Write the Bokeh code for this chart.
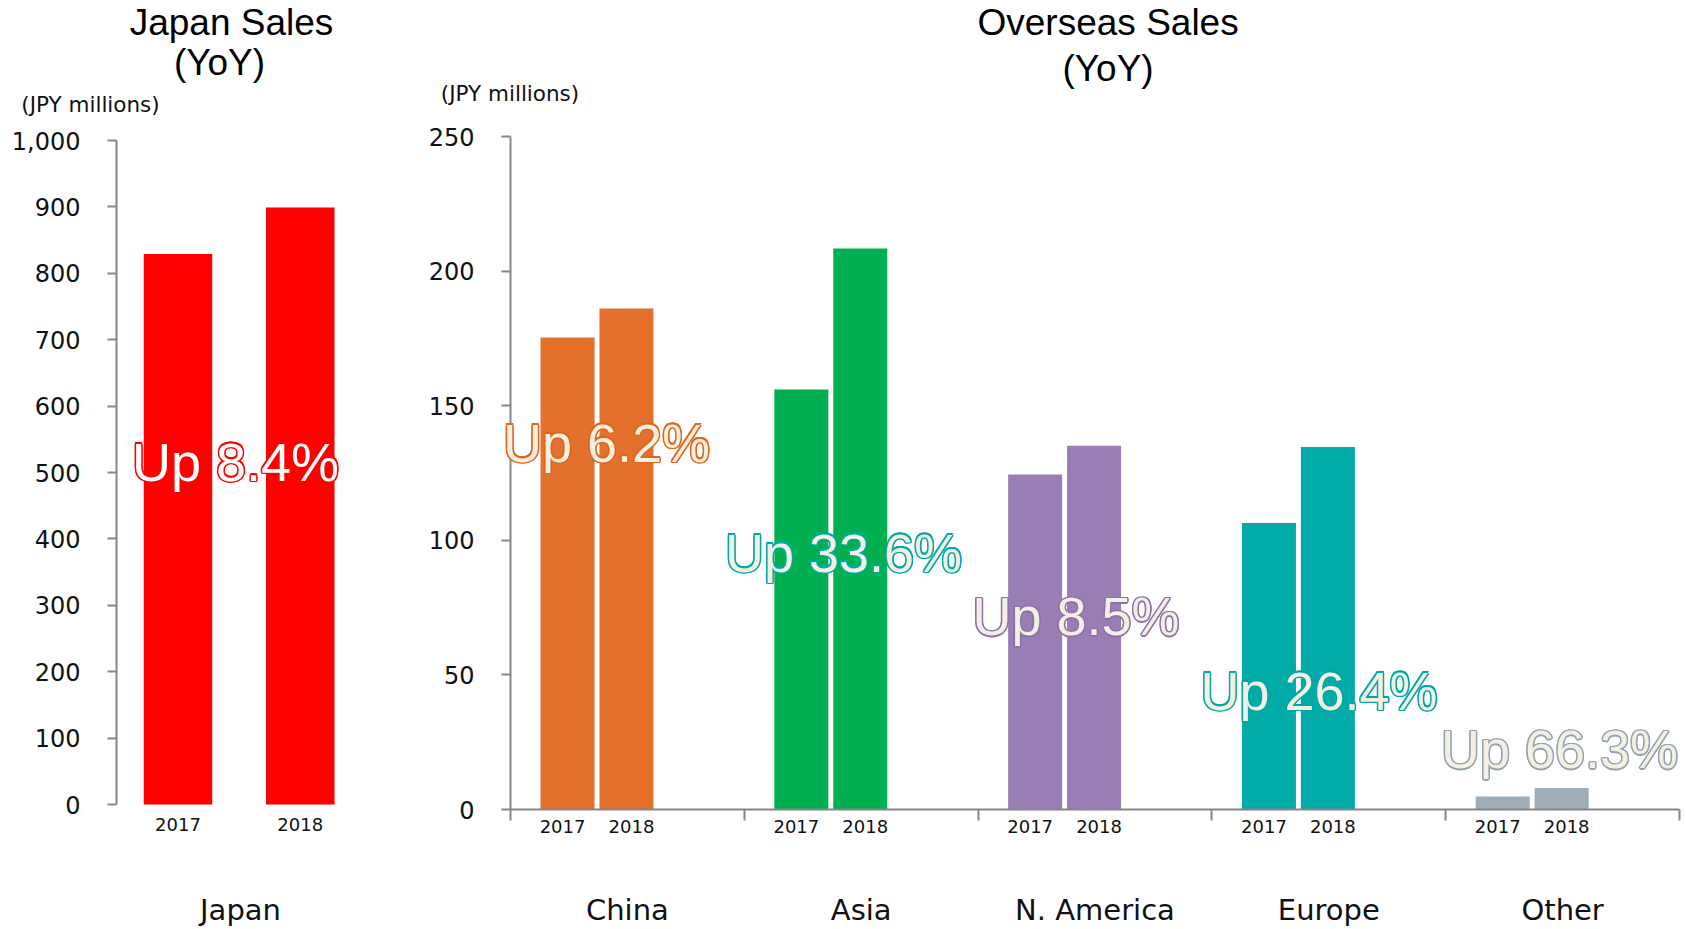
from bokeh.plotting import figure
from bokeh.models import Range1d, FixedTicker, NumeralTickFormatter, Label
from bokeh.layouts import row
from bokeh.embed import file_html
from bokeh.resources import INLINE

# ---------------- data ----------------
years = ["2017", "2018"]
japan_name = "Japan"
japan_sales = [829, 899]          # JPY millions
japan_growth = 8.4                # %

regions = ["China", "Asia", "N. America", "Europe", "Other"]
sales_2017 = [175.3, 156.0, 124.4, 106.4, 4.8]
sales_2018 = [186.1, 208.4, 135.1, 134.7, 8.0]
growth = [6.2, 33.6, 8.5, 26.4, 66.3]

left_ticks = list(range(0, 1001, 100))
right_ticks = list(range(0, 251, 50))

# ---------------- styles ----------------
japan_color = "#FF0000"
region_colors = ["#E3702D", "#00B050", "#9A7DB5", "#00ABA8", "#9EADB7"]
outline_colors = ["#E0661E", "#00A9A5", "#8E6FAD", "#00A8A5", "#93A3AE"]
CREAM = "#F3EFE1"
AXIS = "#868686"
TXT = "#111111"
F_TITLE = "Liberation Sans"
F_BODY = "DejaVu Sans"
HAS_OW = "text_outline_width" in Label.properties()

# ---------------- layout (page pixels) ----------------
W, H = 1686, 929
W1 = 400
L1, T1, B1 = 116, 140, 804                # left chart: axis x, top (1000), zero
L2, R2, T2, B2 = 510, 1679, 136, 809      # right chart: axis x, right end, top (250), zero

C0, STEP = 177.5, 122.25                  # left bar slot centre / spacing
BAR1_W = 68.5

GW = (R2 - L2) / len(regions)             # right group width
OFF = [0.244, 0.496]                      # bar offsets inside a group
BAR2_W = 0.231


def lx(px): return (px - C0) / STEP
def ly(py): return (B1 - py) * 1000.0 / (B1 - T1)
def rx(px): return (px - L2) / GW
def ry(py): return (B2 - py) * 250.0 / (B2 - T2)


def style_axis(ax, ticks, tick_out, minor=None):
    ax.ticker = FixedTicker(ticks=ticks, minor_ticks=minor or [])
    ax.axis_line_color = AXIS
    ax.axis_line_width = 2
    ax.major_tick_line_color = AXIS
    ax.major_tick_line_width = 2
    ax.major_tick_out = tick_out
    ax.major_tick_in = 0
    ax.minor_tick_line_color = AXIS if minor else None
    ax.minor_tick_line_width = 2
    ax.minor_tick_out = tick_out
    ax.minor_tick_in = 0


def style_y(ax, ticks, fmt, loc, bounds):
    style_axis(ax, ticks, 9)
    ax.fixed_location = loc
    ax.bounds = bounds
    ax.formatter = NumeralTickFormatter(format=fmt)
    ax.major_label_standoff = 27
    ax.major_label_text_font = F_BODY
    ax.major_label_text_font_size = "24px"
    ax.major_label_text_color = TXT


def lab(p, x, y, text, font, size, color, align="center"):
    p.add_layout(Label(x=x, y=y, text=text, text_align=align,
                       text_baseline="middle", text_font=font,
                       text_font_size=size, text_color=color))


HALO = [(-1.5, 0), (1.5, 0), (0, -1.5), (0, 1.5),
        (-1.1, -1.1), (1.1, -1.1), (-1.1, 1.1), (1.1, 1.1)]


def outlined(p, x, y, text, size, fill, outline):
    # halo in outline colour, then the light fill on top
    for dx, dy in HALO:
        p.add_layout(Label(x=x, y=y, x_offset=dx, y_offset=dy, text=text,
                           text_align="center", text_baseline="middle",
                           text_font=F_TITLE, text_font_size=size,
                           text_color=outline))
    kw = {}
    if HAS_OW:
        kw["text_outline_width"] = 1
    p.add_layout(Label(x=x, y=y, text=text, text_align="center",
                       text_baseline="middle", text_font=F_TITLE,
                       text_font_size=size, text_color=fill, **kw))


def base_fig(width, xr, yr):
    p = figure(width=width, height=H, output_backend="svg", toolbar_location=None,
               x_range=xr, y_range=yr, min_border=0,
               min_border_left=0, min_border_right=0,
               min_border_top=0, min_border_bottom=0)
    p.outline_line_color = None
    p.grid.grid_line_color = None
    return p


# ---------------- left figure: Japan ----------------
p1 = base_fig(W1, Range1d(lx(0), lx(W1)), Range1d(ly(H), ly(0)))
p1.xaxis.visible = False
style_y(p1.yaxis[0], left_ticks, "0,0", lx(L1), (0, 1000))

xs1 = list(range(len(years)))
p1.vbar(x=xs1, top=japan_sales, width=BAR1_W / STEP, bottom=0,
        fill_color=japan_color, line_color=None)

for i, y in enumerate(years):
    lab(p1, i, ly(824), y, F_BODY, "18px", TXT)
lab(p1, lx(240), ly(909), japan_name, F_BODY, "29px", TXT)
lab(p1, lx(231), ly(22), "Japan Sales", F_TITLE, "37px", "#000000")
lab(p1, lx(219), ly(62), "(YoY)", F_TITLE, "37px", "#000000")
lab(p1, lx(90), ly(104), "(JPY millions)", F_BODY, "21.5px", TXT)
outlined(p1, lx(235), ly(461), f"Up {japan_growth:.1f}%", "54px",
         "#FFFFFF", japan_color)

# ---------------- right figure: Overseas ----------------
p2 = base_fig(W - W1, Range1d(rx(W1), rx(W)), Range1d(ry(H), ry(0)))
style_y(p2.yaxis[0], right_ticks, "0", 0, (0, 250))

xa = p2.xaxis[0]
style_axis(xa, [], 11, minor=list(range(len(regions) + 1)))
xa.fixed_location = 0
xa.bounds = (0, len(regions))

for k, vals in enumerate([sales_2017, sales_2018]):
    xs = [i + OFF[k] for i in range(len(regions))]
    p2.vbar(x=xs, top=vals, width=BAR2_W, bottom=0,
            fill_color=region_colors, line_color=None)

year_shift = [-5, 5]
for i, r in enumerate(regions):
    for k, y in enumerate(years):
        lab(p2, i + OFF[k] + year_shift[k] / GW, ry(826), y, F_BODY, "18px", TXT)
    lab(p2, i + 0.5, ry(909), r, F_BODY, "29px", TXT)

# growth label centres (page px)
growth_pos = [(606, 442), (843, 552), (1075.5, 615.5), (1318.5, 690), (1559, 748.5)]
for i, g in enumerate(growth):
    gx, gy = growth_pos[i]
    outlined(p2, rx(gx), ry(gy), f"Up {g:.1f}%", "54px", CREAM, outline_colors[i])

lab(p2, rx(1107.6), ry(22), "Overseas Sales", F_TITLE, "37px", "#000000")
lab(p2, rx(1107.6), ry(68), "(YoY)", F_TITLE, "37px", "#000000")
lab(p2, rx(509.5), ry(92.5), "(JPY millions)", F_BODY, "21.5px", TXT)

layout = row(p1, p2)
open("out.html", "w").write(file_html(layout, INLINE))
